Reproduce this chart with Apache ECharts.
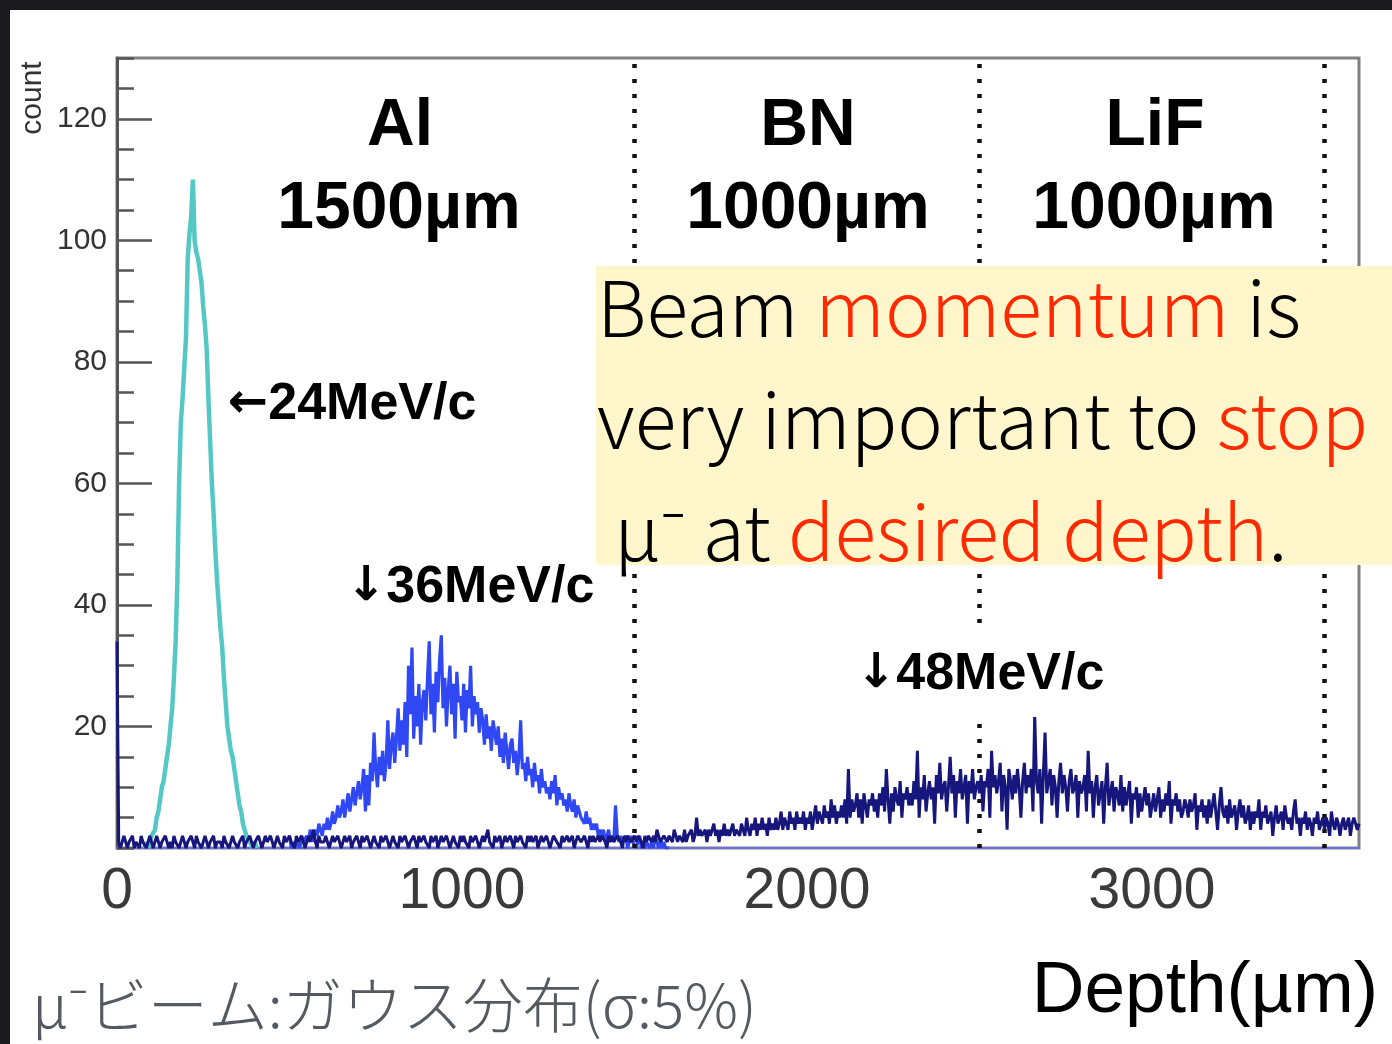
<!DOCTYPE html>
<html>
<head>
<meta charset="utf-8">
<script src="https://cdn.jsdelivr.net/npm/echarts@6/dist/echarts.min.js"></script>
<style>
  html, body { margin: 0; padding: 0; background: #fff; }
  #chart { width: 1392px; height: 1044px; }
</style>
</head>
<body>
<div id="chart"></div>
<script>
// histogram bin width (µm)
const depthStep = 5;

// 24MeV/c beam
const cyanStart = 80;
const cyanCounts = [
  0, 1, 0, 1, 2, 2, 3, 5, 6, 8,
  10, 11, 13, 15, 17, 20, 23, 28, 34, 44,
  60, 70, 74, 79, 84, 97, 101, 104, 110, 100,
  98, 97, 95, 93, 89, 86, 82, 74, 67, 60,
  55, 49, 44, 40, 36, 33, 28, 24, 20, 18,
  16, 15, 13, 11, 9, 7, 6, 4, 3, 2,
  2, 1, 1, 0, 1, 0
];

// 36MeV/c beam
const blueStart = 500;
const blueCounts = [
  2, 0, 1, 0, 1, 1, 0, 2, 1, 1,
  2, 1, 3, 2, 1, 3, 2, 4, 3, 2,
  4, 3, 5, 3, 4, 6, 4, 5, 7, 5,
  6, 8, 5, 7, 9, 6, 8, 10, 7, 9,
  11, 8, 10, 13, 6, 12, 7, 14, 11, 19,
  13, 10, 15, 12, 16, 11, 14, 21, 13, 17,
  19, 14, 18, 23, 16, 21, 17, 24, 15, 30,
  22, 33, 18, 25, 20, 27, 17, 24, 26, 21,
  28, 34, 22, 27, 19, 29, 24, 31, 35, 23,
  28, 20, 26, 30, 22, 27, 18, 29, 24, 25,
  21, 27, 19, 26, 23, 30, 20, 25, 22, 24,
  19, 23, 21, 17, 22, 18, 20, 16, 21, 19,
  17, 20, 15, 18, 14, 19, 16, 13, 17, 18,
  14, 16, 12, 15, 21, 13, 14, 11, 15, 12,
  13, 10, 14, 11, 12, 9, 13, 10, 11, 9,
  10, 8, 11, 9, 12, 7, 10, 8, 9, 7,
  8, 6, 9, 7, 6, 8, 5, 7, 6, 5,
  5, 4, 6, 4, 5, 3, 4, 3, 4, 2,
  3, 2, 3, 1, 2, 3, 1, 2, 1, 7,
  2, 1, 2, 1, 1, 2, 0, 1, 2, 1,
  1, 0, 1, 2, 0, 1, 0, 1, 1, 0,
  1, 0, 2, 1, 0, 1, 0, 1, 0, 0, 0
];

// 48MeV/c beam
const navyStart = 0;
const navyCounts = [
  34, 1, 0, 1, 2, 1, 0, 1, 1, 2, 0, 1, 1, 0, 2, 1, 1, 0, 1, 2,
  1, 0, 1, 2, 1, 0, 1, 1, 2, 1, 0, 1, 0, 2, 1, 1, 0, 1, 2, 1,
  0, 1, 1, 2, 1, 0, 2, 1, 1, 0, 1, 2, 1, 0, 1, 1, 2, 0, 1, 1,
  1, 0, 2, 1, 1, 0, 1, 2, 1, 1, 0, 1, 1, 2, 0, 1, 1, 2, 1, 0,
  1, 1, 2, 1, 0, 1, 2, 1, 1, 2, 1, 0, 1, 2, 1, 1, 0, 2, 1, 1,
  2, 1, 1, 0, 2, 1, 1, 2, 1, 0, 1, 2, 1, 1, 3, 1, 0, 2, 1, 1,
  1, 2, 1, 0, 1, 2, 1, 1, 2, 1, 0, 1, 2, 1, 1, 2, 0, 1, 1, 2,
  1, 0, 2, 1, 1, 2, 1, 0, 1, 2, 1, 1, 0, 2, 1, 1, 2, 1, 0, 1,
  2, 1, 1, 0, 2, 1, 1, 2, 1, 0, 1, 1, 2, 1, 0, 2, 1, 1, 2, 1,
  1, 0, 2, 1, 1, 2, 0, 1, 2, 1, 1, 2, 1, 0, 1, 2, 1, 1, 0, 2,
  1, 2, 1, 1, 0, 2, 1, 1, 2, 1, 0, 1, 2, 1, 1, 3, 1, 1, 0, 2,
  1, 1, 2, 0, 1, 2, 1, 1, 2, 1, 0, 2, 1, 1, 2, 1, 1, 0, 2, 1,
  2, 1, 1, 2, 0, 1, 2, 1, 1, 2, 1, 0, 1, 2, 2, 1, 1, 0, 2, 1,
  1, 2, 1, 1, 2, 0, 1, 2, 2, 1, 1, 2, 1, 0, 2, 1, 2, 1, 1, 2,
  1, 2, 2, 1, 0, 2, 1, 2, 1, 1, 2, 2, 1, 0, 2, 1, 2, 2, 1, 1,
  2, 1, 2, 2, 1, 0, 2, 1, 2, 2, 1, 2, 1, 3, 2, 1, 1, 2, 2, 1,
  2, 2, 1, 3, 2, 1, 2, 2, 1, 3, 1, 2, 2, 3, 1, 2, 5, 2, 3, 2,
  2, 3, 1, 3, 2, 2, 4, 2, 3, 1, 3, 2, 4, 2, 3, 2, 3, 4, 2, 3,
  3, 2, 4, 3, 2, 5, 3, 2, 4, 3, 5, 2, 4, 3, 5, 3, 4, 2, 5, 3,
  4, 3, 5, 3, 4, 6, 3, 5, 4, 3, 6, 4, 5, 3, 6, 4, 5, 4, 6, 3,
  5, 4, 6, 3, 5, 7, 4, 6, 5, 4, 7, 5, 6, 4, 8, 5, 7, 4, 6, 5,
  7, 5, 8, 4, 13, 5, 8, 6, 7, 9, 5, 8, 4, 9, 7, 5, 8, 7, 9, 6,
  8, 5, 9, 7, 10, 6, 13, 8, 4, 9, 6, 10, 8, 7, 11, 5, 9, 8, 10, 7,
  9, 7, 11, 8, 16, 5, 10, 8, 12, 6, 9, 11, 8, 10, 4, 12, 9, 14, 8, 10,
  11, 6, 10, 15, 9, 12, 5, 11, 9, 13, 8, 10, 12, 4, 11, 9, 13, 8, 10, 11,
  9, 12, 6, 11, 10, 13, 5, 16, 10, 12, 9, 11, 14, 6, 12, 10, 3, 13, 11, 8,
  12, 9, 13, 10, 5, 11, 14, 9, 12, 10, 13, 6, 22, 11, 9, 13, 4, 12, 19, 9,
  11, 13, 7, 12, 10, 5, 11, 14, 9, 12, 10, 6, 11, 13, 9, 10, 12, 5, 11, 9,
  10, 12, 6, 16, 9, 11, 5, 10, 12, 7, 9, 11, 4, 10, 14, 7, 9, 11, 6, 10,
  9, 7, 12, 6, 10, 7, 9, 11, 4, 9, 8, 10, 5, 9, 6, 8, 10, 7, 9, 5,
  7, 9, 6, 8, 10, 5, 8, 6, 9, 7, 11, 4, 8, 7, 9, 6, 8, 5, 6, 8,
  7, 5, 8, 6, 7, 9, 3, 7, 6, 8, 5, 7, 4, 8, 5, 7, 9, 6, 3, 7,
  10, 6, 5, 7, 4, 8, 5, 6, 7, 3, 6, 8, 5, 7, 4, 5, 7, 3, 6, 4,
  6, 5, 8, 3, 6, 5, 7, 4, 5, 6, 2, 5, 7, 4, 5, 6, 3, 7, 5, 4,
  5, 3, 6, 8, 4, 5, 2, 5, 4, 6, 3, 5, 4, 2, 5, 4, 6, 3, 4, 5,
  3, 5, 4, 2, 6, 4, 3, 5, 4, 2, 4, 5, 3, 4, 5, 2, 4, 5, 4, 3,
  4
];

// layer boundaries (µm)
const layerEdges = [1500, 2500, 3500];

function toPairs(start, counts) {
  return counts.map((c, i) => [start + i * depthStep, c]);
}

const chart = echarts.init(document.getElementById('chart'));

const boxFont = '"Noto Sans CJK JP", "Noto Sans", sans-serif';
const boldFont = 'bold 66px "Liberation Sans", Arial, sans-serif';

function boxLine(text, y) {
  const part = { fontSize: 77, fontWeight: 300, fontFamily: boxFont };
  return {
    type: 'text', z: 110,
    style: {
      x: 597, y: y, text: text, textVerticalAlign: 'middle',
      rich: {
        k: Object.assign({ fill: '#000' }, part),
        r: Object.assign({ fill: '#ff2a00' }, part)
      }
    }
  };
}

function label(text, x, y, font, align) {
  return {
    type: 'text', z: 100,
    style: { x: x, y: y, text: text, font: font, fill: '#000',
      textAlign: align || 'center', textVerticalAlign: 'middle' }
  };
}

// "←24MeV/c" style labels: arrow from DejaVu, text from Liberation
function beamLabel(arrow, text, x, y, bg) {
  const style = {
    x: x, y: y, text: '{a|' + arrow + '}{t|' + text + '}',
    textAlign: 'left', textVerticalAlign: 'middle',
    rich: {
      a: { fill: '#000', fontSize: 48, fontWeight: 'bold', fontFamily: '"DejaVu Sans"' },
      t: { fill: '#000', fontSize: 52, fontWeight: 'bold', fontFamily: '"Liberation Sans", Arial' }
    }
  };
  if (bg) {
    style.backgroundColor = '#fff';
    style.padding = [16, 4];
  }
  return { type: 'text', z: 100, style: style };
}

const option = {
  backgroundColor: '#fff',
  animation: false,
  grid: {
    left: 117, right: 33, top: 58, bottom: 196,
    show: true, borderColor: '#808080', borderWidth: 3
  },
  xAxis: {
    type: 'value', min: 0, max: 3600, interval: 1000,
    axisLine: { show: true, onZero: false, lineStyle: { color: '#7070dc', width: 2 } },
    axisTick: { show: false },
    splitLine: { show: false },
    axisLabel: {
      color: '#3a3a3a', fontSize: 57, fontFamily: 'Liberation Sans',
      margin: 16, showMaxLabel: false,
      formatter: v => String(v)
    }
  },
  yAxis: [
    {
      type: 'value', min: 0, max: 130, interval: 5,
      axisLine: { show: true, lineStyle: { color: '#555', width: 3 } },
      axisTick: { show: true, inside: true, length: 17, lineStyle: { color: '#555', width: 2.5 } },
      axisLabel: { show: false },
      splitLine: { show: false }
    },
    {
      type: 'value', min: 0, max: 130, interval: 20, position: 'left',
      axisLine: { show: false },
      axisTick: { show: true, inside: true, length: 35, lineStyle: { color: '#555', width: 2.5 } },
      axisLabel: {
        color: '#333', fontSize: 30, fontFamily: 'Liberation Sans',
        margin: 10, showMaxLabel: false, showMinLabel: false
      },
      splitLine: { show: false }
    }
  ],
  series: [
    {
      name: '24MeV/c', type: 'line', data: toPairs(cyanStart, cyanCounts),
      showSymbol: false, z: 3,
      lineStyle: { color: '#55c8c6', width: 4.5 }
    },
    {
      name: '36MeV/c', type: 'line', data: toPairs(blueStart, blueCounts),
      showSymbol: false, z: 4,
      lineStyle: { color: '#3048f4', width: 3.2 }
    },
    {
      name: '48MeV/c', type: 'line', data: toPairs(navyStart, navyCounts),
      showSymbol: false, z: 5,
      lineStyle: { color: '#16167c', width: 3 },
      markLine: {
        silent: true, symbol: 'none', label: { show: false },
        lineStyle: { color: '#111', type: [4, 11], width: 4.5 },
        data: layerEdges.map(v => ({ xAxis: v }))
      }
    }
  ],
  graphic: [
    // dark slide edges
    { type: 'rect', z: 200, shape: { x: 0, y: 0, width: 1392, height: 10 }, style: { fill: '#1b1b1d' } },
    { type: 'rect', z: 200, shape: { x: 0, y: 0, width: 10, height: 1044 }, style: { fill: '#1b1b1d' } },

    // axis titles
    {
      type: 'text', z: 100, x: 33, y: 98, rotation: Math.PI / 2,
      style: { x: 0, y: 0, text: 'count', font: '30px "Liberation Sans", Arial, sans-serif',
        fill: '#333', textAlign: 'center', textVerticalAlign: 'middle' }
    },
    label('Depth(µm)', 1378, 992, '73px "Liberation Sans", Arial, sans-serif', 'right'),

    // layer labels
    label('Al', 400, 127, boldFont),
    label('1500µm', 399, 210, boldFont),
    label('BN', 808, 127, boldFont),
    label('1000µm', 808, 210, boldFont),
    label('LiF', 1155, 127, boldFont),
    label('1000µm', 1154, 210, boldFont),

    // beam annotations
    beamLabel('←', '24MeV/c', 228, 405),
    beamLabel('↓', '36MeV/c', 346, 588),
    beamLabel('↓', '48MeV/c', 852, 675, true),

    // note box
    { type: 'rect', z: 105, shape: { x: 596, y: 266, width: 796, height: 299 }, style: { fill: '#fff6cc' } },
    boxLine('{k|Beam }{r|momentum}{k| is}', 308),
    boxLine('{k|very important to }{r|stop}', 420),
    boxLine('{k| μ⁻ at }{r|desired depth}{k|.}', 532),

    // bottom note
    {
      type: 'text', z: 100,
      style: { x: 32, y: 1005, text: 'μ⁻ビーム:ガウス分布(σ:5%)',
        fontSize: 60, fontWeight: 300, fontFamily: boxFont, fill: '#555a60',
        textAlign: 'left', textVerticalAlign: 'middle' }
    }
  ]
};

chart.setOption(option);
</script>
</body>
</html>
